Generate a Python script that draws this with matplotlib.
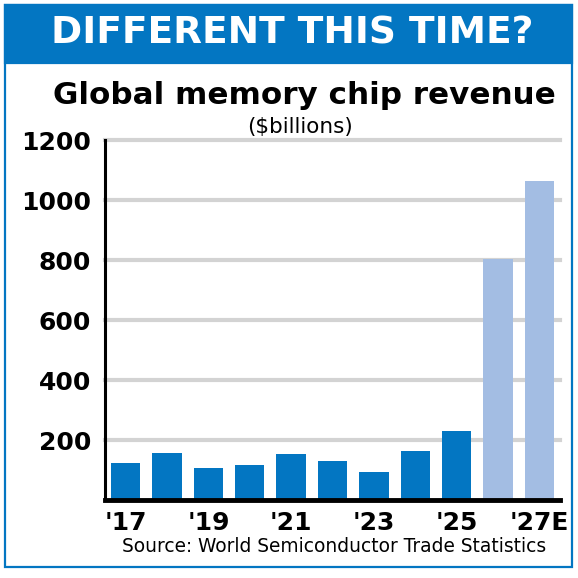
import matplotlib
matplotlib.use("Agg")
import matplotlib.pyplot as plt
from matplotlib.patches import Rectangle

# Datos (miles de millones de dólares)
years = ["'17", "'18", "'19", "'20", "'21", "'22", "'23", "'24", "'25", "'26E", "'27E"]
revenue = [122, 158, 106, 118, 153, 129, 92, 164, 229, 804, 1062]
is_estimate = [False] * 9 + [True, True]
yticks = [200, 400, 600, 800, 1000, 1200]

BLUE = '#0376C2'
LIGHT = '#A3BDE3'
GRID = '#D3D3D3'

fig = plt.figure(figsize=(5.78, 5.78), dpi=100)
W = H = 578.0

def fx(px):
    return px / W

def fy(py):
    return 1 - py / H

# Marco y cabecera azul
fig.patches.append(Rectangle((fx(5), fy(567)), fx(567), (567 - 5) / H,
                             transform=fig.transFigure, fill=False,
                             edgecolor=BLUE, lw=1.6))
fig.patches.append(Rectangle((fx(5), fy(63)), fx(567), (63 - 5) / H,
                             transform=fig.transFigure, facecolor=BLUE,
                             edgecolor=BLUE, lw=1.6))
fig.text(fx(292), fy(34), 'DIFFERENT THIS TIME?', color='white',
         fontsize=27, fontweight='bold', ha='center', va='center')
fig.text(fx(304), fy(95), 'Global memory chip revenue', color='black',
         fontsize=22.3, fontweight='bold', ha='center', va='center')
fig.text(fx(300), fy(127), '($billions)', color='black',
         fontsize=15.5, ha='center', va='center')
fig.text(fx(334), fy(547), 'Source: World Semiconductor Trade Statistics',
         color='black', fontsize=13.4, ha='center', va='center')

ax = fig.add_axes([fx(105), fy(500), fx(560) - fx(105), (500 - 140) / H])
x = list(range(len(years)))
colors = [LIGHT if e else BLUE for e in is_estimate]
ax.bar(x, revenue, width=0.71, color=colors, zorder=3)

ax.set_ylim(0, 1200)
ax.set_xlim(-0.5, 10.5)
for yv in yticks:
    ax.axhline(yv, color=GRID, lw=3, zorder=1, clip_on=False)

ax.set_yticks(yticks)
ax.set_yticklabels([str(v) for v in yticks], fontsize=18, fontweight='bold')
ax.set_xticks(x[::2])
ax.set_xticklabels(["'17", "'19", "'21", "'23", "'25", "'27E"],
                   fontsize=18, fontweight='bold')
ax.tick_params(axis='both', length=0)
ax.tick_params(axis='x', pad=8)
ax.tick_params(axis='y', pad=10)

for s in ['top', 'right']:
    ax.spines[s].set_visible(False)
ax.spines['left'].set_linewidth(2.2)
ax.spines['bottom'].set_linewidth(3.5)
ax.spines['bottom'].set_zorder(4)

fig.savefig('out.png', dpi=100)
